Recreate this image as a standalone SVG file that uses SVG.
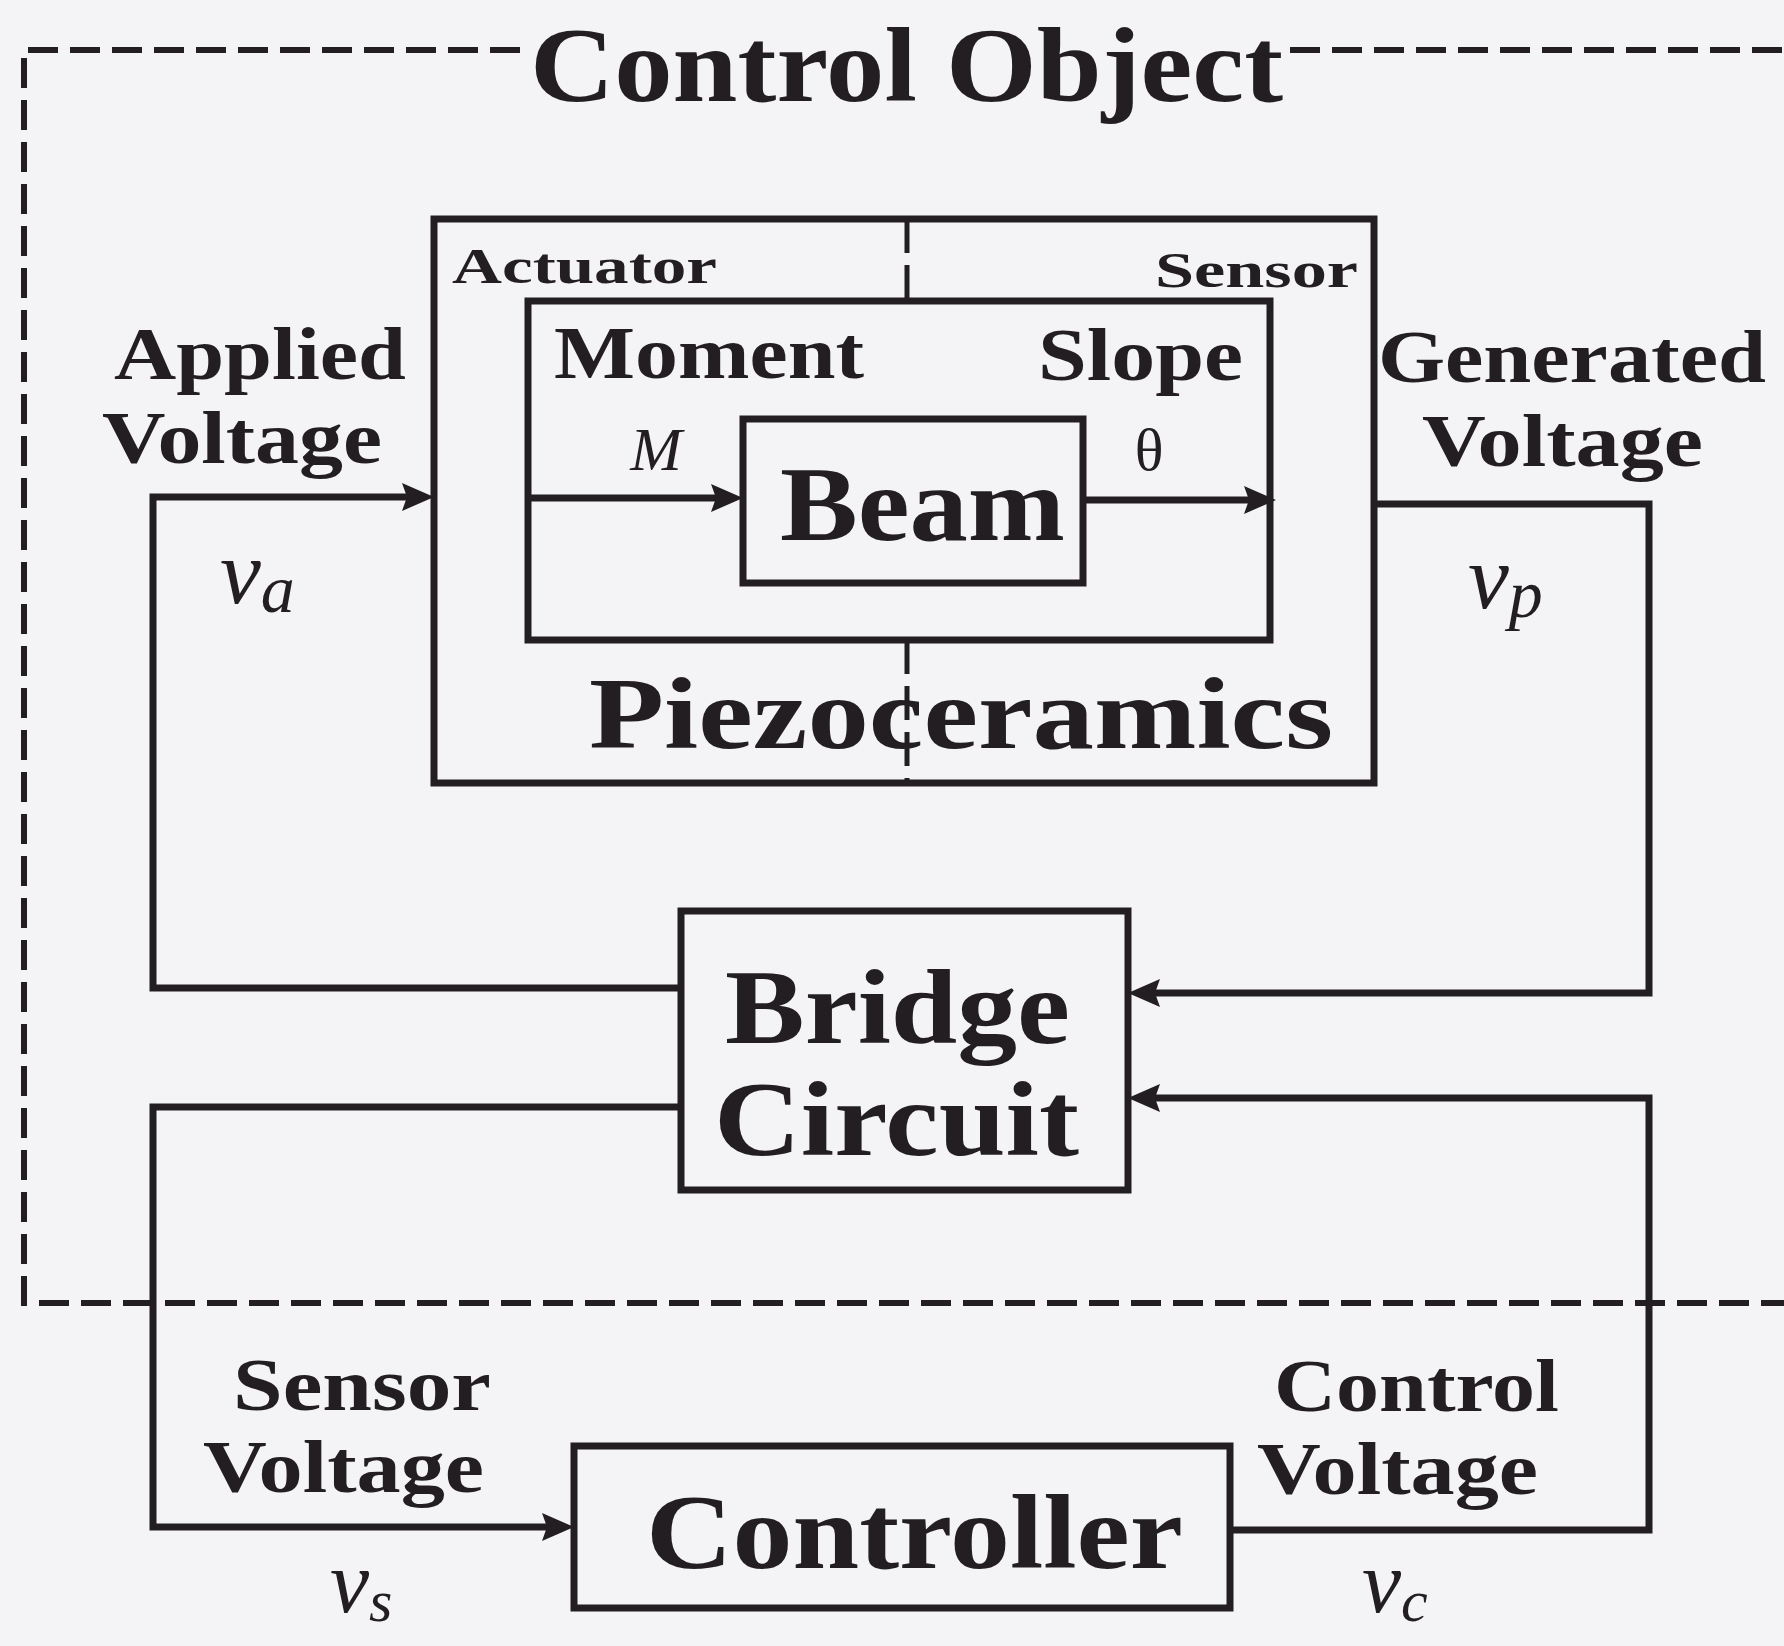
<svg xmlns="http://www.w3.org/2000/svg" width="1784" height="1646" viewBox="0 0 1784 1646">
<defs>
<style>
.bg{fill:#f4f4f6}
.box{fill:none;stroke:#221e22;stroke-width:7}
.ln{fill:none;stroke:#221e22;stroke-width:7}
.dash{fill:none;stroke:#221e22;stroke-width:6;stroke-dasharray:30 12}
.div{fill:none;stroke:#221e22;stroke-width:5;stroke-dasharray:34 12}
.t{fill:#221e22}
.b{font-weight:bold}
.it{font-style:italic}
</style>
<marker id="ah" viewBox="0 0 32 28" refX="22" refY="14" markerWidth="32" markerHeight="28" markerUnits="userSpaceOnUse" orient="auto">
<path d="M0,0 L32,14 L0,28 L5,14 z" fill="#221e22"/>
</marker>
</defs>
<rect class="bg" x="0" y="0" width="1784" height="1646"/>

<g id="control-object" font-family="'Liberation Serif', 'Times New Roman', serif">
<path class="dash" d="M520,50 L24,50 L24,1303 L1784,1303"/>
<path class="dash" d="M1290,50 L1784,50"/>
<text class="t b" x="530" y="101" font-size="106" textLength="753" lengthAdjust="spacingAndGlyphs">Control Object</text>
</g>

<g id="piezoceramics" font-family="'Liberation Serif', 'Times New Roman', serif">
<rect class="box" x="434" y="219" width="940" height="564"/>
<rect class="box" x="528" y="301" width="742" height="339"/>
<path class="div" d="M907,219 L907,301"/>
<path class="div" d="M907,640 L907,783"/>
<text class="t b" x="452" y="283" font-size="50" textLength="265" lengthAdjust="spacingAndGlyphs">Actuator</text>
<text class="t b" x="1155" y="287" font-size="50" textLength="203" lengthAdjust="spacingAndGlyphs">Sensor</text>
<text class="t b" x="554" y="378" font-size="75" textLength="310" lengthAdjust="spacingAndGlyphs">Moment</text>
<text class="t b" x="1038" y="380" font-size="75" textLength="205" lengthAdjust="spacingAndGlyphs">Slope</text>
<text class="t b" x="589" y="748" font-size="102" textLength="744" lengthAdjust="spacingAndGlyphs">Piezoceramics</text>
<text class="t it" x="656" y="470" font-size="62" text-anchor="middle">M</text>
<text class="t" x="1149" y="470" font-size="60" text-anchor="middle">θ</text>
</g>

<g id="beam" font-family="'Liberation Serif', 'Times New Roman', serif">
<rect class="box" x="743" y="419" width="340" height="164"/>
<text class="t b" x="780" y="540" font-size="106" textLength="285" lengthAdjust="spacingAndGlyphs">Beam</text>
</g>

<g id="bridge-circuit" font-family="'Liberation Serif', 'Times New Roman', serif">
<rect class="box" x="681" y="911" width="447" height="279"/>
<text class="t b" x="725" y="1043" font-size="106" textLength="345" lengthAdjust="spacingAndGlyphs">Bridge</text>
<text class="t b" x="714" y="1155" font-size="106" textLength="365" lengthAdjust="spacingAndGlyphs">Circuit</text>
</g>

<g id="controller" font-family="'Liberation Serif', 'Times New Roman', serif">
<rect class="box" x="574" y="1446" width="656" height="162"/>
<text class="t b" x="646" y="1568" font-size="106" textLength="537" lengthAdjust="spacingAndGlyphs">Controller</text>
</g>

<g id="connectors">
<path class="ln" d="M681,988 L153,988 L153,497 L424,497" marker-end="url(#ah)"/>
<path class="ln" d="M1374,504 L1649,504 L1649,993 L1138,993" marker-end="url(#ah)"/>
<path class="ln" d="M681,1107 L153,1107 L153,1527 L564,1527" marker-end="url(#ah)"/>
<path class="ln" d="M1230,1530 L1649,1530 L1649,1098 L1138,1098" marker-end="url(#ah)"/>
<path class="ln" d="M528,498 L733,498" marker-end="url(#ah)"/>
<path class="ln" d="M1083,500 L1266,500" marker-end="url(#ah)"/>
</g>

<g id="labels" font-family="'Liberation Serif', 'Times New Roman', serif">
<text class="t b" x="114" y="379" font-size="75" textLength="292" lengthAdjust="spacingAndGlyphs">Applied</text>
<text class="t b" x="102" y="463" font-size="75" textLength="280" lengthAdjust="spacingAndGlyphs">Voltage</text>
<text class="t b" x="1378" y="382" font-size="75" textLength="388" lengthAdjust="spacingAndGlyphs">Generated</text>
<text class="t b" x="1422" y="466" font-size="75" textLength="281" lengthAdjust="spacingAndGlyphs">Voltage</text>
<text class="t b" x="233" y="1410" font-size="75" textLength="258" lengthAdjust="spacingAndGlyphs">Sensor</text>
<text class="t b" x="203" y="1492" font-size="75" textLength="281" lengthAdjust="spacingAndGlyphs">Voltage</text>
<text class="t b" x="1274" y="1411" font-size="75" textLength="285" lengthAdjust="spacingAndGlyphs">Control</text>
<text class="t b" x="1257" y="1494" font-size="75" textLength="281" lengthAdjust="spacingAndGlyphs">Voltage</text>
<text class="t it" x="220" y="603" font-size="92">v<tspan font-size="68" dy="9">a</tspan></text>
<text class="t it" x="1468" y="608" font-size="92">v<tspan font-size="68" dy="9">p</tspan></text>
<text class="t it" x="330" y="1612" font-size="88">v<tspan font-size="60" dy="9">s</tspan></text>
<text class="t it" x="1362" y="1612" font-size="88">v<tspan font-size="60" dy="9">c</tspan></text>
</g>
</svg>
